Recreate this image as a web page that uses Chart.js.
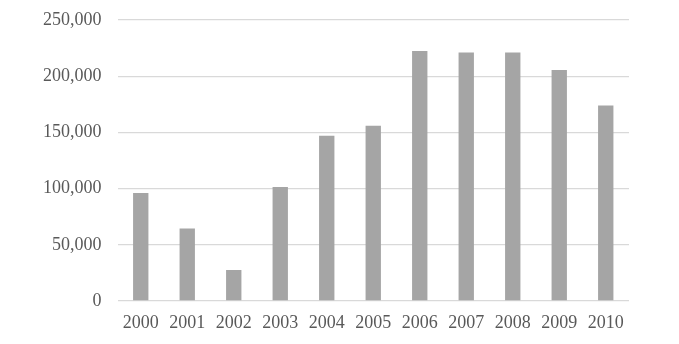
<!DOCTYPE html>
<html>
<head>
<meta charset="utf-8">
<script src="https://cdn.jsdelivr.net/npm/chart.js@4"></script>
<style>
  html, body { margin: 0; padding: 0; background: #fff; }
</style>
</head>
<body>
<canvas id="chart" width="679" height="344"></canvas>
<script>
var years = ["2000","2001","2002","2003","2004","2005","2006","2007","2008","2009","2010"];
var values = [96000, 64500, 27500, 101500, 147000, 156000, 222500, 221000, 221000, 205500, 174000];
var yTicks = [0, 50000, 100000, 150000, 200000, 250000];

new Chart(document.getElementById("chart"), {
  type: "bar",
  data: {
    labels: years,
    datasets: [{
      data: values,
      backgroundColor: "#a5a5a5",
      barPercentage: 0.33,
      categoryPercentage: 1
    }]
  },
  options: {
    responsive: false,
    animation: false,
    layout: { autoPadding: false, padding: { left: 27, right: 50, top: 20, bottom: 6.4 } },
    plugins: { legend: { display: false }, tooltip: { enabled: false } },
    scales: {
      x: {
        grid: { display: false },
        border: { display: false },
        ticks: {
          color: "#595959",
          font: { family: "Liberation Serif", size: 18 },
          padding: 3.5
        }
      },
      y: {
        min: 0,
        max: 250000,
        afterBuildTicks: function (axis) {
          axis.ticks = yTicks.map(function (v) { return { value: v }; });
        },
        afterFit: function (axis) {
          axis.paddingTop = 0;
          axis.paddingBottom = 0;
        },
        grid: { color: "#d9d9d9", lineWidth: 1.3, drawTicks: false },
        border: { display: false },
        ticks: {
          color: "#595959",
          font: { family: "Liberation Serif", size: 18 },
          padding: 16,
          callback: function (v) { return v.toLocaleString("en-US"); }
        }
      }
    }
  }
});
</script>
</body>
</html>
